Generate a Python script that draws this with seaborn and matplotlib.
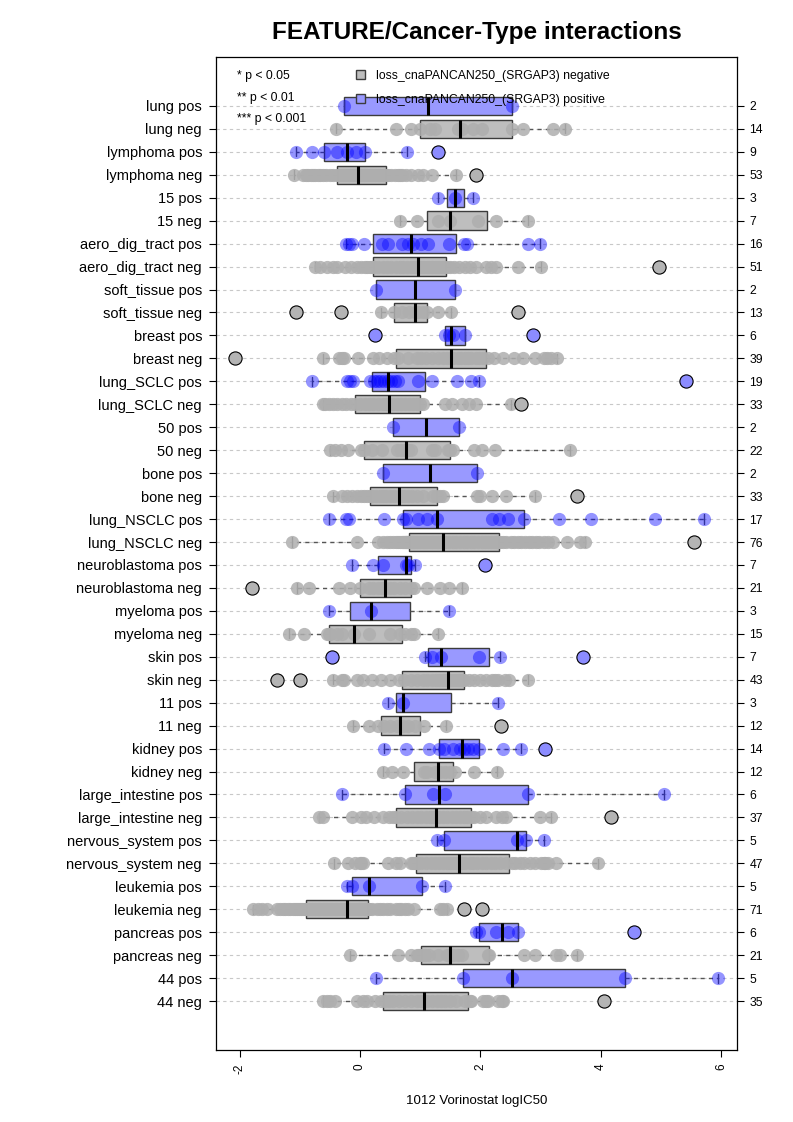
import numpy as np
import pandas as pd
import seaborn as sns
import matplotlib.pyplot as plt
from matplotlib.patches import Patch

# values (1012 Vorinostat logIC50), top row first
lung_pos = [-0.27, 2.52]
lung_neg = [-0.39, 0.60, 0.85, 0.99, 1.16, 1.25, 1.62, 1.70, 1.88, 2.03, 2.53, 2.71, 3.21, 3.41]
lymphoma_pos = [-1.06, -0.79, -0.60, -0.38, -0.21, -0.07, 0.08, 0.78, 1.30]
lymphoma_neg = [-1.10, -0.95, -0.90, -0.86, -0.82, -0.78, -0.74, -0.70, -0.66, -0.62,
                -0.56, -0.50, -0.44, -0.38, -0.35, -0.32, -0.28, -0.25, -0.22, -0.19,
                -0.16, -0.13, -0.11, -0.09, -0.07, -0.05, -0.04, -0.02, 0.00, 0.03,
                0.06, 0.09, 0.12, 0.16, 0.20, 0.25, 0.30, 0.34, 0.39, 0.43,
                0.47, 0.52, 0.58, 0.63, 0.67, 0.70, 0.77, 0.85, 0.97, 1.05,
                1.19, 1.60, 1.93]
t15_pos = [1.30, 1.58, 1.88]
t15_neg = [0.67, 0.94, 1.30, 1.50, 1.96, 2.26, 2.79]
aero_dig_tract_pos = [-0.24, -0.18, -0.13, 0.07, 0.37, 0.46, 0.69, 0.80, 0.88, 1.02,
                      1.13, 1.47, 1.73, 1.78, 2.79, 2.99]
aero_dig_tract_neg = [-0.74, -0.66, -0.55, -0.45, -0.38, -0.25, -0.15, -0.05, 0.02, 0.08,
                      0.12, 0.17, 0.20, 0.24, 0.30, 0.38, 0.45, 0.52, 0.60, 0.66,
                      0.72, 0.78, 0.84, 0.89, 0.93, 0.97, 1.00, 1.03, 1.07, 1.11,
                      1.15, 1.19, 1.20, 1.24, 1.28, 1.32, 1.36, 1.40, 1.45, 1.49,
                      1.56, 1.64, 1.75, 1.83, 1.92, 2.09, 2.18, 2.26, 2.62, 3.00, 4.96]
soft_tissue_pos = [0.26, 1.57]
soft_tissue_neg = [-1.06, -0.31, 0.35, 0.56, 0.70, 0.82, 0.91, 0.97, 1.05, 1.12, 1.30, 1.51, 2.62]
breast_pos = [0.25, 1.42, 1.48, 1.54, 1.74, 2.87]
breast_neg = [-2.07, -0.62, -0.35, -0.30, -0.27, -0.04, 0.21, 0.32, 0.45, 0.57,
              0.63, 0.80, 0.95, 1.02, 1.10, 1.20, 1.30, 1.38, 1.45, 1.51,
              1.55, 1.62, 1.68, 1.75, 1.80, 1.85, 1.92, 1.98, 2.05, 2.13,
              2.22, 2.38, 2.55, 2.70, 2.90, 3.05, 3.10, 3.18, 3.27]
lung_SCLC_pos = [-0.80, -0.22, -0.17, -0.12, 0.16, 0.24, 0.28, 0.33, 0.40, 0.46,
                 0.52, 0.58, 0.63, 0.97, 1.20, 1.61, 1.84, 1.98, 5.42]
lung_SCLC_neg = [-0.62, -0.58, -0.52, -0.45, -0.38, -0.30, -0.24, -0.15, -0.09, 0.00,
                 0.08, 0.15, 0.22, 0.30, 0.38, 0.44, 0.49, 0.55, 0.62, 0.68,
                 0.75, 0.82, 0.88, 0.95, 1.00, 1.05, 1.42, 1.53, 1.70, 1.81,
                 1.92, 2.51, 2.67]
t50_pos = [0.55, 1.64]
t50_neg = [-0.49, -0.42, -0.31, -0.20, 0.01, 0.06, 0.20, 0.37, 0.62, 0.68,
           0.74, 0.80, 0.85, 1.19, 1.25, 1.46, 1.50, 1.55, 1.89, 2.03, 2.25, 3.49]
bone_pos = [0.39, 1.94]
bone_neg = [-0.44, -0.30, -0.22, -0.13, -0.05, 0.02, 0.07, 0.12, 0.16, 0.20,
            0.26, 0.33, 0.38, 0.43, 0.50, 0.57, 0.64, 0.68, 0.73, 0.80,
            0.87, 0.95, 1.05, 1.22, 1.28, 1.33, 1.38, 1.95, 2.00, 2.20,
            2.43, 2.90, 3.60]
lung_NSCLC_pos = [-0.51, -0.23, -0.19, 0.40, 0.71, 0.76, 0.97, 1.11, 1.28, 2.20,
                  2.31, 2.45, 2.72, 3.30, 3.84, 4.90, 5.71]
lung_NSCLC_neg = [-1.13, -0.05, 0.30, 0.38, 0.45, 0.50, 0.55, 0.60, 0.63, 0.66,
                  0.69, 0.71, 0.73, 0.75, 0.76, 0.77, 0.78, 0.79, 0.80, 0.82,
                  0.86, 0.90, 0.95, 1.00, 1.04, 1.08, 1.12, 1.16, 1.19, 1.22,
                  1.25, 1.28, 1.30, 1.32, 1.34, 1.35, 1.36, 1.37, 1.38, 1.42,
                  1.48, 1.54, 1.60, 1.66, 1.72, 1.78, 1.84, 1.90, 1.96, 2.02,
                  2.08, 2.13, 2.18, 2.22, 2.26, 2.28, 2.30, 2.32, 2.37, 2.43,
                  2.50, 2.56, 2.62, 2.68, 2.74, 2.80, 2.86, 2.92, 2.98, 3.05,
                  3.12, 3.21, 3.44, 3.66, 3.74, 5.54]
neuroblastoma_pos = [-0.14, 0.21, 0.38, 0.77, 0.80, 0.91, 2.07]
neuroblastoma_neg = [-1.79, -1.04, -0.84, -0.35, -0.17, 0.00, 0.15, 0.22, 0.30, 0.36,
                     0.42, 0.50, 0.57, 0.66, 0.75, 0.84, 0.90, 1.12, 1.33, 1.47, 1.69]
myeloma_pos = [-0.52, 0.18, 1.47]
myeloma_neg = [-1.18, -0.93, -0.55, -0.52, -0.50, -0.38, -0.30, -0.10, 0.15, 0.50,
               0.66, 0.74, 0.85, 0.90, 1.29]
skin_pos = [-0.47, 1.08, 1.19, 1.35, 1.97, 2.33, 3.70]
skin_neg = [-1.38, -0.99, -0.45, -0.30, -0.27, -0.05, 0.05, 0.20, 0.35, 0.50,
            0.65, 0.73, 0.85, 0.95, 1.05, 1.12, 1.20, 1.27, 1.32, 1.38,
            1.42, 1.46, 1.50, 1.53, 1.56, 1.59, 1.62, 1.64, 1.66, 1.68,
            1.70, 1.71, 1.73, 1.81, 1.90, 2.00, 2.10, 2.20, 2.25, 2.30,
            2.40, 2.48, 2.79]
t11_pos = [0.47, 0.72, 2.29]
t11_neg = [-0.12, 0.15, 0.30, 0.40, 0.50, 0.62, 0.72, 0.80, 0.92, 1.06, 1.43, 2.34]
kidney_pos = [0.40, 0.77, 1.15, 1.31, 1.40, 1.55, 1.66, 1.72, 1.80, 1.88, 1.98, 2.37, 2.67, 3.08]
kidney_neg = [0.39, 0.54, 0.71, 1.07, 1.12, 1.25, 1.33, 1.42, 1.50, 1.58, 1.90, 2.28]
large_intestine_pos = [-0.30, 0.74, 1.22, 1.42, 2.79, 5.05]
large_intestine_neg = [-0.68, -0.62, -0.13, 0.02, 0.10, 0.24, 0.38, 0.48, 0.55, 0.59,
                       0.68, 0.78, 0.86, 0.95, 1.02, 1.10, 1.16, 1.21, 1.26, 1.32,
                       1.38, 1.44, 1.52, 1.60, 1.66, 1.72, 1.78, 1.84, 1.90, 2.00,
                       2.09, 2.26, 2.35, 2.43, 2.99, 3.17, 4.16]
nervous_system_pos = [1.28, 1.40, 2.60, 2.75, 3.05]
nervous_system_neg = [-0.43, -0.20, -0.08, 0.00, 0.02, 0.05, 0.47, 0.60, 0.66, 0.84,
                      0.88, 0.91, 0.95, 1.02, 1.10, 1.18, 1.25, 1.32, 1.38, 1.44,
                      1.50, 1.55, 1.60, 1.65, 1.70, 1.75, 1.82, 1.88, 1.95, 2.03,
                      2.10, 2.18, 2.25, 2.33, 2.42, 2.52, 2.58, 2.66, 2.72, 2.82,
                      2.90, 3.00, 3.05, 3.08, 3.12, 3.25, 3.96]
leukemia_pos = [-0.21, -0.14, 0.15, 1.03, 1.42]
leukemia_neg = [-1.77, -1.70, -1.62, -1.55, -1.38, -1.32, -1.28, -1.24, -1.20, -1.16,
                -1.12, -1.08, -1.04, -1.01, -0.98, -0.95, -0.92, -0.90, -0.88, -0.85,
                -0.80, -0.75, -0.70, -0.66, -0.62, -0.58, -0.54, -0.50, -0.46, -0.42,
                -0.38, -0.34, -0.31, -0.28, -0.25, -0.22, -0.19, -0.16, -0.13, -0.10,
                -0.07, -0.04, -0.02, 0.00, 0.02, 0.04, 0.06, 0.08, 0.09, 0.10,
                0.11, 0.12, 0.13, 0.15, 0.20, 0.28, 0.33, 0.38, 0.45, 0.50,
                0.60, 0.65, 0.68, 0.75, 0.80, 0.90, 1.33, 1.38, 1.44, 1.73, 2.03]
pancreas_pos = [1.92, 1.98, 2.26, 2.46, 2.63, 4.55]
pancreas_neg = [-0.17, 0.63, 0.85, 0.95, 0.98, 1.01, 1.08, 1.15, 1.30, 1.45,
                1.50, 1.55, 1.62, 1.70, 2.12, 2.14, 2.72, 2.90, 3.25, 3.32, 3.61]
t44_pos = [0.26, 1.71, 2.52, 4.40, 5.94]
t44_neg = [-0.61, -0.55, -0.50, -0.42, -0.05, 0.05, 0.12, 0.25, 0.35, 0.41,
           0.48, 0.55, 0.65, 0.75, 0.85, 0.95, 1.02, 1.07, 1.12, 1.20,
           1.28, 1.35, 1.42, 1.50, 1.60, 1.75, 1.83, 1.85, 2.05, 2.09,
           2.12, 2.30, 2.35, 2.37, 4.06]

cancer_types = ["lung", "lymphoma", "15", "aero_dig_tract", "soft_tissue", "breast",
                "lung_SCLC", "50", "bone", "lung_NSCLC", "neuroblastoma", "myeloma",
                "skin", "11", "kidney", "large_intestine", "nervous_system",
                "leukemia", "pancreas", "44"]
pos_groups = [lung_pos, lymphoma_pos, t15_pos, aero_dig_tract_pos, soft_tissue_pos,
              breast_pos, lung_SCLC_pos, t50_pos, bone_pos, lung_NSCLC_pos,
              neuroblastoma_pos, myeloma_pos, skin_pos, t11_pos, kidney_pos,
              large_intestine_pos, nervous_system_pos, leukemia_pos, pancreas_pos, t44_pos]
neg_groups = [lung_neg, lymphoma_neg, t15_neg, aero_dig_tract_neg, soft_tissue_neg,
              breast_neg, lung_SCLC_neg, t50_neg, bone_neg, lung_NSCLC_neg,
              neuroblastoma_neg, myeloma_neg, skin_neg, t11_neg, kidney_neg,
              large_intestine_neg, nervous_system_neg, leukemia_neg, pancreas_neg, t44_neg]

feature = "loss_cnaPANCAN250_(SRGAP3)"
drug_label = "1012 Vorinostat logIC50"

fill_col = {"neg": "#BEBEBE", "pos": "#9999FF"}
point_col = {"neg": "#AEAEAE", "pos": "#0000FF"}
point_alpha = {"neg": 0.85, "pos": 0.42}
flier_col = {"neg": "#B4B4B4", "pos": "#8C8CFF"}

labels, groups, status = [], [], []
for ct, p, n in zip(cancer_types, pos_groups, neg_groups):
    labels += [f"{ct} pos", f"{ct} neg"]
    groups += [p, n]
    status += ["pos", "neg"]

rows = []
for lab, g, s in zip(labels, groups, status):
    for v in g:
        rows.append({"label": lab, "value": v, "status": s})
df = pd.DataFrame(rows)


def boxplot_stats_r(values, coef=1.5):
    # same hinges / whiskers as R's boxplot.stats (Tukey fivenum)
    x = np.sort(np.asarray(values, float))
    n = len(x)
    n4 = np.floor((n + 3) / 2) / 2
    d = np.array([1, n4, (n + 1) / 2, n + 1 - n4, n]) - 1
    fn = 0.5 * (x[np.floor(d).astype(int)] + x[np.ceil(d).astype(int)])
    iqr = fn[3] - fn[1]
    out = (x < fn[1] - coef * iqr) | (x > fn[3] + coef * iqr)
    inside = x[~out]
    return {"med": fn[2], "q1": fn[1], "q3": fn[3],
            "whislo": inside.min(), "whishi": inside.max(), "fliers": x[out]}


sns.set_style("white")
plt.rcParams["font.family"] = ["Liberation Sans", "DejaVu Sans"]
plt.rcParams.update({"text.color": "black", "axes.labelcolor": "black",
                     "xtick.color": "black", "ytick.color": "black"})

fig = plt.figure(figsize=(7.93, 11.22), dpi=100)
ax = fig.add_axes([0.2724, 0.0642, 0.657, 0.885])

# dashed guide line on every row
for i in range(len(labels)):
    ax.axhline(i, color="#C8C8C8", lw=0.8, ls=(0, (3, 3)), zorder=0.5)

for s in ["neg", "pos"]:
    sub = df[df["status"] == s]
    sns.stripplot(data=sub, x="value", y="label", order=labels, color=point_col[s],
                  jitter=False, size=9.5, alpha=point_alpha[s], linewidth=0,
                  ax=ax, zorder=3)

for i, (g, s) in enumerate(zip(groups, status)):
    ax.bxp([boxplot_stats_r(g)], positions=[i], widths=0.8, capwidths=0.4,
           orientation="horizontal", patch_artist=True, manage_ticks=False,
           boxprops=dict(facecolor=fill_col[s], edgecolor="#3C3C3C", linewidth=1, zorder=2),
           whiskerprops=dict(color="#555555", linestyle=(0, (3, 3)), linewidth=1, zorder=2),
           capprops=dict(color="#555555", linewidth=1, zorder=2),
           medianprops=dict(color="black", linewidth=2.2, zorder=4, solid_capstyle="butt"),
           flierprops=dict(marker="o", markersize=9.5, markerfacecolor=flier_col[s],
                           markeredgecolor="black", markeredgewidth=0.8, zorder=5))

lo, hi = df["value"].min(), df["value"].max()
pad = 0.04 * (hi - lo)
ax.set_xlim(lo - pad, hi + pad)
ax.set_ylim(41.13, -2.13)

ax.set_yticks(range(len(labels)))
ax.set_yticklabels(labels, fontsize=10.5)
ax.set_xticks([-2, 0, 2, 4, 6])
ax.set_xticklabels(["-2", "0", "2", "4", "6"], rotation=90, fontsize=8.5)
ax.tick_params(axis="both", direction="out", length=5, width=0.8, color="black", pad=5,
               left=True, bottom=True)
ax.set_xlabel(drug_label, fontsize=9.5, labelpad=15)
ax.set_ylabel("")
for sp in ax.spines.values():
    sp.set_visible(True)
    sp.set_color("black")
    sp.set_linewidth(0.9)

ax2 = ax.twinx()
ax2.set_ylim(ax.get_ylim())
ax2.set_yticks(range(len(labels)))
ax2.set_yticklabels([str(len(g)) for g in groups], fontsize=8.8)
ax2.tick_params(axis="y", direction="out", length=5, width=0.8, color="black", pad=4)
for sp in ax2.spines.values():
    sp.set_visible(False)

ax.set_title("FEATURE/Cancer-Type interactions", fontsize=17.5, fontweight="bold",
             color="black", pad=13)

for k, txt in enumerate(["* p < 0.05", "** p < 0.01", "*** p < 0.001"]):
    ax.text(0.040, 0.981 - 0.0218 * k, txt, transform=ax.transAxes, fontsize=8.8,
            va="center", ha="left", zorder=6)

handles = [Patch(facecolor=fill_col["neg"], edgecolor="#3C3C3C", label=f"{feature} negative"),
           Patch(facecolor=fill_col["pos"], edgecolor="#3C3C3C", label=f"{feature} positive")]
leg = ax.legend(handles=handles, loc="upper left", bbox_to_anchor=(0.268, 0.987),
                frameon=False, fontsize=8.8, handlelength=0.75, handleheight=0.75,
                handletextpad=0.9, labelspacing=0.95, borderpad=0, borderaxespad=0)
leg.set_zorder(6)

fig.savefig("out.png", dpi=100)
